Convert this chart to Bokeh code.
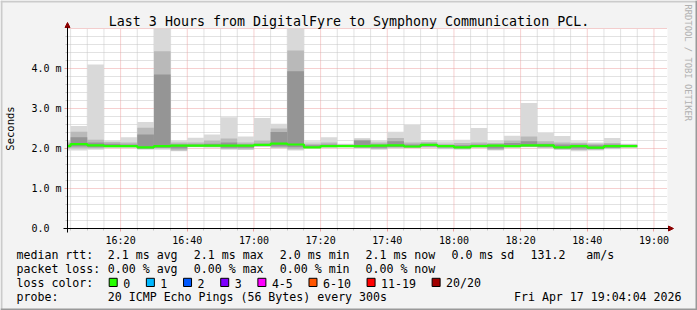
import math
import pandas as pd
from bokeh.plotting import figure
from bokeh.models import (Range1d, FixedTicker, Label, BoxAnnotation, Arrow, NormalHead,
                          ColumnDataSource, DatetimeTickFormatter, DatetimeAxis, LinearAxis)
from bokeh.embed import file_html
from bokeh.resources import INLINE

# ---------------- data ----------------
DAY = "2026-04-17"
RANGE_START = "16:04:04"
RANGE_END = "19:04:04"
STEP = "5min"
Y_MAX = 5.0

bin_start = ["16:00", "16:05", "16:10", "16:15", "16:20", "16:25", "16:30",
             "16:35", "16:40", "16:45", "16:50", "16:55", "17:00", "17:05",
             "17:10", "17:15", "17:20", "17:25", "17:30", "17:35", "17:40",
             "17:45", "17:50", "17:55", "18:00", "18:05", "18:10", "18:15",
             "18:20", "18:25", "18:30", "18:35", "18:40", "18:45", "18:50"]

# ping RTT distribution per 5-minute step (ms)
ping_max = [2.20, 2.56, 4.10, 2.20, 2.28, 2.66, 5.60, 2.20, 2.27, 2.35, 2.78, 2.30,
            2.76, 2.62, 5.60, 2.18, 2.28, 2.12, 2.26, 2.20, 2.42, 2.59, 2.21, 2.18,
            2.22, 2.51, 2.20, 2.32, 3.14, 2.39, 2.31, 2.18, 2.15, 2.26, 2.12]
ping_p90 = [2.15, 2.42, 2.22, 2.16, 2.15, 2.52, 4.43, 2.15, 2.15, 2.20, 2.25, 2.15,
            2.20, 2.50, 4.45, 2.12, 2.15, 2.10, 2.22, 2.15, 2.26, 2.15, 2.16, 2.12,
            2.14, 2.15, 2.14, 2.20, 2.30, 2.18, 2.15, 2.14, 2.12, 2.14, 2.10]
ping_p75 = [2.10, 2.28, 2.15, 2.12, 2.10, 2.35, 3.85, 2.10, 2.10, 2.12, 2.15, 2.10,
            2.12, 2.41, 3.93, 2.08, 2.10, 2.08, 2.20, 2.10, 2.18, 2.10, 2.12, 2.08,
            2.08, 2.10, 2.10, 2.14, 2.18, 2.12, 2.10, 2.10, 2.08, 2.10, 2.08]
median_rtt = [2.06, 2.11, 2.08, 2.06, 2.06, 2.03, 2.06, 2.07, 2.07, 2.07, 2.07, 2.07,
              2.09, 2.12, 2.10, 2.03, 2.06, 2.06, 2.06, 2.07, 2.08, 2.05, 2.09, 2.06,
              2.03, 2.06, 2.07, 2.06, 2.08, 2.08, 2.03, 2.06, 2.02, 2.06, 2.06]
ping_p25 = [2.03, 2.05, 2.03, 2.04, 2.04, 2.00, 2.02, 2.00, 2.05, 2.05, 2.02, 2.02,
            2.06, 2.05, 2.03, 2.02, 2.04, 2.05, 2.03, 2.02, 2.04, 2.03, 2.05, 2.03,
            2.01, 2.04, 2.00, 2.04, 2.05, 2.04, 2.00, 2.00, 1.99, 2.02, 2.04]
ping_p10 = [2.00, 2.00, 2.00, 2.03, 2.03, 1.99, 2.00, 1.95, 2.04, 2.04, 1.99, 1.98,
            2.05, 2.02, 1.98, 2.01, 2.03, 2.04, 2.01, 1.99, 2.02, 2.02, 2.03, 2.00,
            1.99, 2.03, 1.97, 2.03, 2.04, 2.02, 1.98, 1.96, 1.97, 2.00, 2.03]
ping_min = [1.95, 1.95, 1.97, 2.02, 2.02, 1.97, 1.97, 1.93, 2.03, 2.02, 1.97, 1.96,
            2.04, 2.00, 1.95, 2.00, 2.02, 2.03, 2.00, 1.97, 2.00, 2.01, 2.02, 1.98,
            1.97, 2.02, 1.95, 2.02, 2.03, 2.00, 1.96, 1.93, 1.95, 1.98, 2.02]

x_tick_labels = ["16:20", "16:40", "17:00", "17:20", "17:40", "18:00", "18:20", "18:40", "19:00"]
y_tick_values = [0, 1, 2, 3, 4]
y_tick_labels = ["0.0", "1.0 m", "2.0 m", "3.0 m", "4.0 m"]

title_text = "Last 3 Hours from DigitalFyre to Symphony Communication PCL."
y_label = "Seconds"
rtt_stats = ["2.1 ms avg", "2.1 ms max", "2.0 ms min", "2.1 ms now", "0.0 ms sd",
             "131.2\u00a0\u00a0\u00a0am/s"]
loss_stats = ["0.00 % avg", "0.00 % max", "0.00 % min", "0.00 % now"]
loss_labels = ["0", "1", "2", "3", "4-5", "6-10", "11-19", "20/20"]
loss_colors = ["#26ff00", "#00b8ff", "#0059ff", "#7e00ff", "#ff00ff", "#ff5500", "#ff0000", "#a00000"]
probe_text = "20 ICMP Echo Pings (56 Bytes) every 300s"
stamp_text = "Fri Apr 17 19:04:04 2026"
credit_text = "RRDTOOL / TOBI OETIKER"

# ---------------- geometry ----------------
EPOCH = pd.Timestamp("1970-01-01")


def ms(hhmm):
    return (pd.Timestamp(f"{DAY} {hhmm}") - EPOCH) / pd.Timedelta(milliseconds=1)


W, H = 697, 310
FL, FR, FT, FB = 67, 667, 28, 228  # data area in canvas pixels
T0, T1 = ms(RANGE_START), ms(RANGE_END)
XPX = (T1 - T0) / (FR - FL)     # ms of time per pixel
YPX = Y_MAX / (FB - FT)         # ms of rtt per pixel

step_ms = pd.Timedelta(STEP) / pd.Timedelta(milliseconds=1)
lefts = [ms(s) for s in bin_start]
rights = [l + step_ms for l in lefts]

BG = "#f3f3f3"
MONO = "DejaVu Sans Mono"

p = figure(width=W, height=H, title=None, x_axis_location=None, y_axis_location=None,
           x_range=Range1d(T0 - FL * XPX, T0 + (W - FL) * XPX),
           y_range=Range1d(-(H - FB) * YPX, Y_MAX + FT * YPX),
           output_backend="svg", toolbar_location=None,
           min_border=0, min_border_left=0, min_border_right=0,
           min_border_top=0, min_border_bottom=0)
p.background_fill_color = BG
p.border_fill_color = BG
p.outline_line_color = None
p.xgrid.visible = False
p.ygrid.visible = False

# white canvas of the graph area
bg = p.quad(left=[T0], right=[T1], bottom=[0], top=[Y_MAX], fill_color="white", line_color=None)
bg.level = "image"

# ---------------- ticks & grid ----------------
major_x = [ms(t) for t in x_tick_labels]
minor_x = []
t = ms("16:05")
while t <= ms("19:00"):
    if t not in major_x:
        minor_x.append(t)
    t += step_ms
minor_y = [round(0.2 * i, 2) for i in range(1, 25) if i % 5 != 0]
major_y = y_tick_values + [Y_MAX]

GRID_MINOR = "#c4c4c4"
GRID_MAJOR = "#eca0a0"
r = p.segment(x0=minor_x, x1=minor_x, y0=[0] * len(minor_x), y1=[Y_MAX] * len(minor_x),
              line_color=GRID_MINOR, line_dash="1 1", line_width=1)
r.level = "underlay"
r = p.segment(x0=[T0] * len(minor_y), x1=[T1] * len(minor_y), y0=minor_y, y1=minor_y,
              line_color=GRID_MINOR, line_dash="1 1", line_width=1)
r.level = "underlay"
r = p.segment(x0=major_x, x1=major_x, y0=[0] * len(major_x), y1=[Y_MAX] * len(major_x),
              line_color=GRID_MAJOR, line_dash="1 1", line_width=1)
r.level = "underlay"
r = p.segment(x0=[T0] * len(major_y), x1=[T1] * len(major_y), y0=major_y, y1=major_y,
              line_color=GRID_MAJOR, line_dash="1 1", line_width=1)
r.level = "underlay"

# ---------------- smoke + median ----------------
src = ColumnDataSource(dict(left=[max(v, T0) for v in lefts], right=rights,
                            mn=ping_min, mx=[min(v, Y_MAX) for v in ping_max],
                            p10=ping_p10, p90=[min(v, Y_MAX) for v in ping_p90],
                            p25=ping_p25, p75=ping_p75))
p.quad(left="left", right="right", bottom="mn", top="mx", source=src,
       fill_color="#d9d9d9", line_color=None)
p.quad(left="left", right="right", bottom="p10", top="p90", source=src,
       fill_color="#b9b9b9", line_color=None)
p.quad(left="left", right="right", bottom="p25", top="p75", source=src,
       fill_color="#959595", line_color=None)

p.step(x=[max(lefts[0], T0)] + lefts[1:] + [rights[-1]], y=median_rtt + [median_rtt[-1]],
       mode="after", line_color=loss_colors[0], line_width=2.2)

# ---------------- axes (fixed at the graph window edges) ----------------
xaxis = DatetimeAxis(fixed_location=0, bounds=(T0, T1),
                     ticker=FixedTicker(ticks=major_x, minor_ticks=minor_x),
                     formatter=DatetimeTickFormatter(minutes="%H:%M", hourmin="%H:%M",
                                                     hours="%H:%M", minsec="%H:%M",
                                                     seconds="%H:%M"))
yaxis = LinearAxis(fixed_location=T0, bounds=(0, Y_MAX),
                   ticker=FixedTicker(ticks=y_tick_values, minor_ticks=minor_y))
yaxis.major_label_overrides = {v: lab.ljust(5, "\u00a0") for v, lab in zip(y_tick_values, y_tick_labels)}
for ax in (xaxis, yaxis):
    ax.axis_line_color = "black"
    ax.axis_line_width = 1
    ax.major_tick_in = 0
    ax.major_tick_out = 3
    ax.minor_tick_in = 0
    ax.minor_tick_out = 2
    ax.major_tick_line_color = GRID_MAJOR
    ax.minor_tick_line_color = GRID_MINOR
    ax.major_label_text_font = MONO
    ax.major_label_text_font_size = "10px"
    ax.major_label_text_color = "black"
xaxis.major_label_standoff = 3
yaxis.major_label_standoff = 3
p.add_layout(xaxis, "below")
p.add_layout(yaxis, "left")

# axis arrows
head = dict(size=5, fill_color="#8b0000", line_color="#8b0000", line_width=1)
p.add_layout(Arrow(x_start=T0 - 4 * XPX, y_start=0, x_end=T1 + 6 * XPX, y_end=0,
                   line_color="black", line_width=1, end=NormalHead(**head)))
p.add_layout(Arrow(x_start=T0, y_start=-4 * YPX, x_end=T0, y_end=Y_MAX + 6 * YPX,
                   line_color="black", line_width=1, end=NormalHead(**head)))

# ---------------- texts (canvas pixel layout) ----------------
TEXT_DY = -3.5  # baseline correction for label rendering


def text(X, Y, s, size="11.6px", align="left", baseline="alphabetic", color="black",
         angle=0.0, font=MONO, dy=TEXT_DY):
    p.add_layout(Label(x=X, y=H - (Y + dy), x_units="screen", y_units="screen", text=s,
                       text_font=font, text_font_size=size, text_align=align,
                       text_baseline=baseline, text_color=color, angle=angle))


def box(X0, Y0, X1, Y1, fill, line=None, lw=1):
    p.add_layout(BoxAnnotation(left=X0, right=X1, top=H - Y0, bottom=H - Y1,
                               left_units="screen", right_units="screen",
                               top_units="screen", bottom_units="screen",
                               fill_color=fill, fill_alpha=1.0,
                               line_color=line, line_width=lw, line_alpha=1.0))


text(W / 2, 24, title_text, size="13.3px", align="center", dy=-3.0)
text(9.0, (FT + FB) / 2, y_label, size="10.5px", align="center", baseline="middle",
     angle=math.pi / 2, dy=0)
text(687.5, 4, credit_text, size="8.8px", align="left", baseline="middle",
     color="#b0b0b0", angle=-math.pi / 2, dy=0)

CW = 6.97
LEFT_X = 16
COL_X = [107.3, 193.3, 279.3, 365.0, 451.0, 530.0]
ROW_Y = [258.3, 272.2, 286.1, 300.0]

text(LEFT_X, ROW_Y[0], "median rtt:")
for cx, s in zip(COL_X, rtt_stats):
    text(cx, ROW_Y[0], s)
text(LEFT_X, ROW_Y[1], "packet loss:")
for cx, s in zip(COL_X, loss_stats):
    text(cx, ROW_Y[1], s)
text(LEFT_X, ROW_Y[2], "loss color:")
cursor = 108.7
for lab, col in zip(loss_labels, loss_colors):
    box(cursor, 277.8, cursor + 8, 286.0, col, line="black")
    tx = cursor + 14
    text(tx, ROW_Y[2], lab)
    cursor = tx + len(lab) * CW + 16.2
text(LEFT_X, ROW_Y[3], "probe:")
text(COL_X[0], ROW_Y[3], probe_text)
text(681, ROW_Y[3], stamp_text, align="right")

# image frame shading
box(0, 0, W, 2, "#cbcbcb")
box(0, 0, 2, H, "#cbcbcb")
box(0, H - 2, W, H, "#999999")
box(W - 2, 0, W, H, "#999999")

open("out.html", "w").write(file_html(p, INLINE))
